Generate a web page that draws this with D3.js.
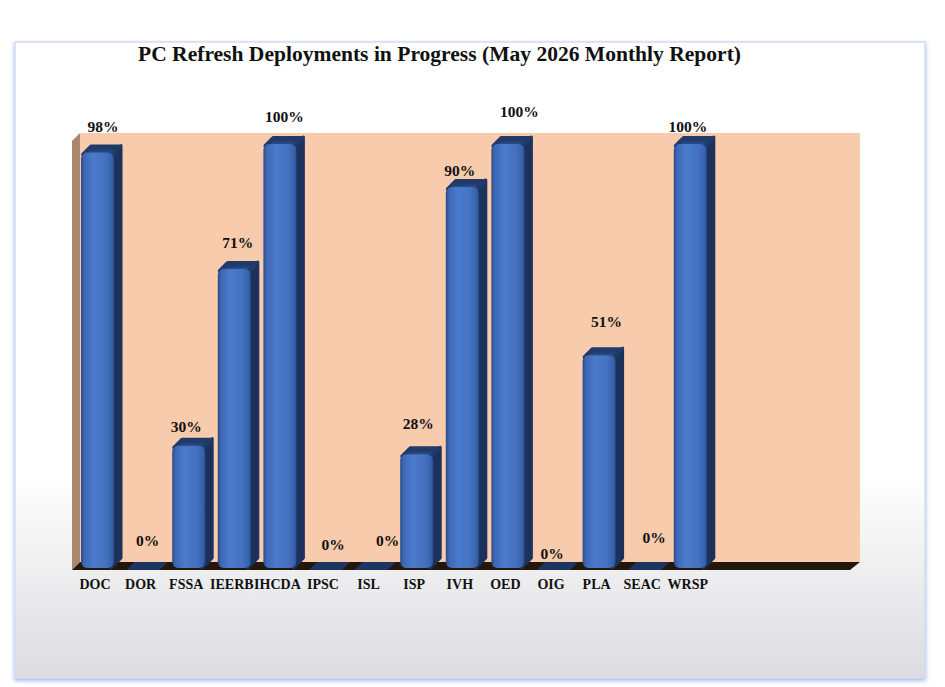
<!DOCTYPE html>
<html>
<head>
<meta charset="utf-8">
<script src="https://cdn.jsdelivr.net/npm/d3@7"></script>
<style>
  body { margin: 0; background: #fff; }
  svg { display: block; }
</style>
</head>
<body>
<div id="chart"></div>
<script>
// data
var categories = ["DOC", "DOR", "FSSA", "IEERB", "IHCDA", "IPSC", "ISL", "ISP",
                  "IVH", "OED", "OIG", "PLA", "SEAC", "WRSP"];
var values = [98, 0, 30, 71, 100, 0, 0, 28, 90, 100, 0, 51, 0, 100];
var valueLabels = ["98%", "0%", "30%", "71%", "100%", "0%", "0%", "28%",
                   "90%", "100%", "0%", "51%", "0%", "100%"];
// hand-placed label nudges from the original (dx, dy from bar top)
var labelNudge = [[8, -18], [7, -26], [0, -11], [6, -18], [7, -19], [10, -22], [19, -26],
                  [4, -22], [0, -8], [14, -24], [1, -13], [10, -25], [12, -29], [0, -9]];

var W = 945, H = 687;
var depth = 8;
var wall = {left: 80, right: 860, top: 133, back: 562, front: 570};

var svg = d3.select("#chart").append("svg")
    .attr("width", W)
    .attr("height", H);

var defs = svg.append("defs");

var bg = defs.append("linearGradient").attr("id", "bg")
    .attr("x1", 0).attr("y1", 0).attr("x2", 0).attr("y2", 1);
bg.append("stop").attr("offset", "0%").attr("stop-color", "#ffffff");
bg.append("stop").attr("offset", "68%").attr("stop-color", "#ffffff");
bg.append("stop").attr("offset", "100%").attr("stop-color", "#dcdbde");

var front = defs.append("linearGradient").attr("id", "barFront")
    .attr("x1", 0).attr("y1", 0).attr("x2", 1).attr("y2", 0);
front.append("stop").attr("offset", "0%").attr("stop-color", "#2a4b88");
front.append("stop").attr("offset", "10%").attr("stop-color", "#3e68b4");
front.append("stop").attr("offset", "38%").attr("stop-color", "#4a7bcc");
front.append("stop").attr("offset", "75%").attr("stop-color", "#4470bf");
front.append("stop").attr("offset", "93%").attr("stop-color", "#3762ad");
front.append("stop").attr("offset", "100%").attr("stop-color", "#2b4f90");

var cap = defs.append("linearGradient").attr("id", "barCap")
    .attr("x1", 0).attr("y1", 1).attr("x2", 0).attr("y2", 0);
cap.append("stop").attr("offset", "0%").attr("stop-color", "#2f5697");
cap.append("stop").attr("offset", "100%").attr("stop-color", "#1b2f58");

var shadow = defs.append("filter").attr("id", "frameShadow")
    .attr("x", "-5%").attr("y", "-5%").attr("width", "110%").attr("height", "110%");
shadow.append("feDropShadow")
    .attr("dx", 0).attr("dy", 2).attr("stdDeviation", 2)
    .attr("flood-color", "#95afdf").attr("flood-opacity", 0.9);

// outer panel
svg.append("rect")
    .attr("x", 15).attr("y", 42)
    .attr("width", 910).attr("height", 636)
    .attr("fill", "url(#bg)")
    .attr("stroke", "#d3def2")
    .attr("stroke-width", 1.5)
    .attr("filter", "url(#frameShadow)");

svg.append("text")
    .attr("x", 138)
    .attr("y", 61)
    .attr("textLength", 603)
    .attr("lengthAdjust", "spacingAndGlyphs")
    .attr("font-family", "Liberation Serif, serif")
    .attr("font-weight", 700)
    .style("font-size", "21px")
    .attr("fill", "#111")
    .text("PC Refresh Deployments in Progress (May 2026 Monthly Report)");

var x = d3.scaleBand()
    .domain(categories)
    .range([72.2, 710.6])
    .padding(0);

var y = d3.scaleLinear()
    .domain([0, 100])
    .range([567, 136]);

// walls and floor
svg.append("rect")
    .attr("x", wall.left).attr("y", wall.top)
    .attr("width", wall.right - wall.left)
    .attr("height", wall.back - wall.top)
    .attr("fill", "#f8cbad");

svg.append("polygon")
    .attr("points", [[wall.left - depth, wall.top + depth], [wall.left, wall.top],
                     [wall.left, wall.back], [wall.left - depth, wall.front]].join(" "))
    .attr("fill", "#ad876b");

svg.append("polygon")
    .attr("points", [[wall.left - depth, wall.front], [wall.left, wall.back],
                     [wall.right, wall.back], [wall.right - 10, wall.front]].join(" "))
    .attr("fill", "#23170b");

var data = categories.map(function(c, i) {
  return {cat: c, value: values[i], label: valueLabels[i], nudge: labelNudge[i]};
});

function cx(d) { return x(d.cat) + x.bandwidth() / 2; }
function xl(d) { return cx(d) - 14; }
function xr(d) { return cx(d) + 19; }

// zero bars lie flat on the floor
svg.append("g").selectAll("polygon")
    .data(data.filter(function(d) { return d.value === 0; }))
    .enter().append("polygon")
      .attr("points", function(d) {
        return [[xl(d), wall.front], [xl(d) + depth, wall.back],
                [xr(d) + depth, wall.back], [xr(d), wall.front]].join(" ");
      })
      .attr("fill", "#1d3562");

var bars = svg.append("g").selectAll("g")
    .data(data.filter(function(d) { return d.value > 0; }))
    .enter().append("g");

var bottom = 568;

bars.append("polygon")
    .attr("points", function(d) {
      var t = y(d.value) + depth;
      return [[xr(d) - 3, t], [xr(d) + depth - 1, t - depth + 1],
              [xr(d) + depth - 1, bottom - depth - 2], [xr(d) - 3, bottom]].join(" ");
    })
    .attr("fill", "#1c325c")
    .attr("stroke", "#1c325c")
    .attr("stroke-width", 3)
    .attr("stroke-linejoin", "round");

bars.append("polygon")
    .attr("points", function(d) {
      var t = y(d.value) + depth;
      return [[xl(d) + 2, t + 2], [xl(d) + depth + 2, t - depth + 2],
              [xr(d) + depth - 2, t - depth + 2], [xr(d) - 2, t + 2]].join(" ");
    })
    .attr("fill", "url(#barCap)")
    .attr("stroke", "#203a6a")
    .attr("stroke-width", 4)
    .attr("stroke-linejoin", "round");

bars.append("rect")
    .attr("x", xl)
    .attr("y", function(d) { return y(d.value) + depth; })
    .attr("width", function(d) { return xr(d) - xl(d); })
    .attr("height", function(d) { return bottom - y(d.value) - depth; })
    .attr("rx", 6)
    .attr("fill", "url(#barFront)");

// value labels
svg.append("g").selectAll("text")
    .data(data)
    .enter().append("text")
      .attr("x", function(d) { return cx(d) + d.nudge[0]; })
      .attr("y", function(d) { return y(d.value) + d.nudge[1] + 5; })
      .attr("text-anchor", "middle")
      .attr("font-family", "Liberation Serif, serif")
      .attr("font-weight", 700)
      .style("font-size", "15.5px")
      .attr("fill", "#111")
      .text(function(d) { return d.label; });

// category axis
var axis = svg.append("g")
    .attr("transform", "translate(0,579)")
    .call(d3.axisBottom(x).tickSize(0).tickPadding(0));
axis.select(".domain").remove();
axis.selectAll("text")
    .attr("font-family", "Liberation Serif, serif")
    .attr("font-weight", 700)
    .style("font-size", "14px")
    .attr("fill", "#111");
</script>
</body>
</html>
